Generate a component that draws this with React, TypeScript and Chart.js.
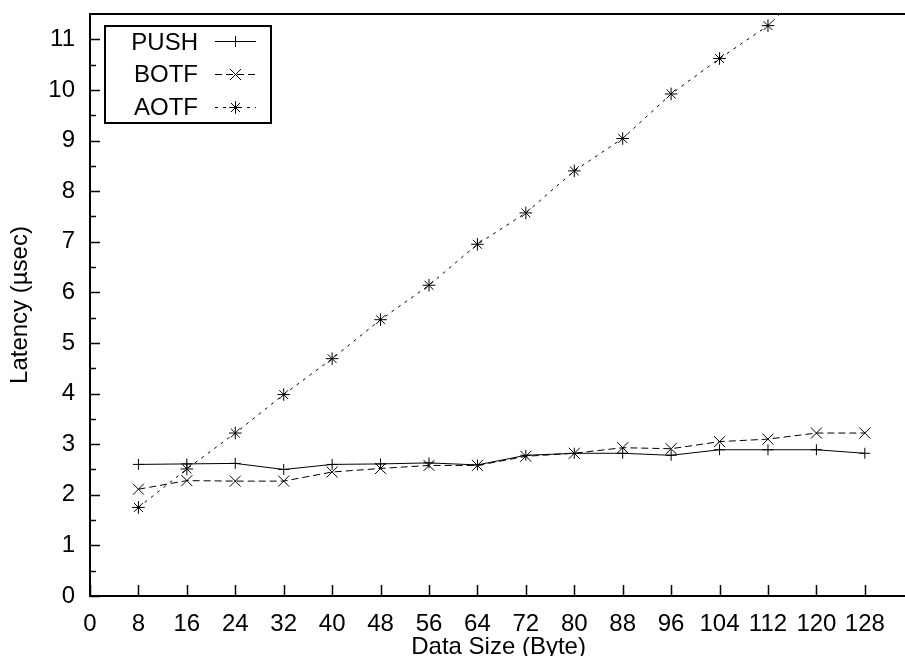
import React, { useEffect, useRef } from 'react';
import { Chart, registerables } from 'chart.js';

Chart.register(...registerables);

// ---------- data ----------
const dataSizes = [8, 16, 24, 32, 40, 48, 56, 64, 72, 80, 88, 96, 104, 112, 120, 128];
const seriesNames = ['PUSH', 'BOTF', 'AOTF'];
const pushLatency = [2.6, 2.61, 2.62, 2.5, 2.6, 2.61, 2.63, 2.59, 2.78, 2.82, 2.82, 2.78, 2.89, 2.89, 2.89, 2.82];
const botfLatency = [2.11, 2.28, 2.27, 2.27, 2.45, 2.52, 2.58, 2.58, 2.76, 2.82, 2.93, 2.91, 3.05, 3.1, 3.22, 3.22];
const aotfLatency = [1.75, 2.51, 3.22, 3.98, 4.69, 5.46, 6.14, 6.95, 7.57, 8.4, 9.04, 9.92, 10.62, 11.27, 12.2, 12.9];
const xTickValues = [0, 8, 16, 24, 32, 40, 48, 56, 64, 72, 80, 88, 96, 104, 112, 120, 128];
const yTickValues = [0, 1, 2, 3, 4, 5, 6, 7, 8, 9, 10, 11];
const xTitle = 'Data Size (Byte)';
const yTitle = 'Latency (\u00b5sec)';

const FONT = "'Liberation Sans', Arial, Helvetica, sans-serif";

const seriesStyles = [
  { dash: [] as number[], point: 'cross', radius: 5.5 },
  { dash: [7, 4], point: 'crossRot', radius: 7.8 },
  { dash: [3, 5], point: 'star', radius: 6.3 },
];

function drawMarker(ctx: CanvasRenderingContext2D, kind: string, x: number, y: number, r: number) {
  ctx.beginPath();
  const d = r * Math.SQRT1_2;
  if (kind === 'cross' || kind === 'star') {
    ctx.moveTo(x - r, y); ctx.lineTo(x + r, y);
    ctx.moveTo(x, y - r); ctx.lineTo(x, y + r);
  }
  if (kind === 'crossRot' || kind === 'star') {
    ctx.moveTo(x - d, y - d); ctx.lineTo(x + d, y + d);
    ctx.moveTo(x - d, y + d); ctx.lineTo(x + d, y - d);
  }
  ctx.stroke();
}

const framePlugin = {
  id: 'gnuFrame',
  afterDatasetsDraw(chart: any) {
    const { ctx, chartArea } = chart;
    const xs = chart.scales.x;
    const ys = chart.scales.y;
    const { left, top, bottom } = chartArea;
    const right = chart.width;
    ctx.save();
    ctx.strokeStyle = '#000';
    ctx.setLineDash([]);
    // ticks
    ctx.lineWidth = 1.5;
    ctx.beginPath();
    yTickValues.forEach((v) => {
      const py = Math.round(ys.getPixelForValue(v)) + 0.5;
      ctx.moveTo(left, py); ctx.lineTo(left + 10, py);
      const pm = Math.round(ys.getPixelForValue(v + 0.5)) + 0.5;
      if (pm > top + 2) { ctx.moveTo(left, pm); ctx.lineTo(left + 6, pm); }
    });
    xTickValues.forEach((v) => {
      const px = Math.round(xs.getPixelForValue(v)) + 0.5;
      ctx.moveTo(px, bottom); ctx.lineTo(px, bottom - 11);
    });
    ctx.stroke();
    // border (left, top, bottom)
    ctx.lineWidth = 2;
    ctx.beginPath();
    ctx.moveTo(right, top); ctx.lineTo(left, top); ctx.lineTo(left, bottom); ctx.lineTo(right, bottom);
    ctx.stroke();

    // key
    ctx.lineWidth = 2;
    ctx.strokeRect(105, 26, 166, 97);
    ctx.font = `24px ${FONT}`;
    ctx.fillStyle = '#000';
    ctx.textAlign = 'right';
    ctx.textBaseline = 'alphabetic';
    seriesNames.forEach((name, i) => {
      const baseY = 49.5 + i * 32.7;
      const midY = Math.round(baseY - 8.3) + 0.5;
      ctx.fillText(name, 198, baseY);
      const st = seriesStyles[i];
      ctx.lineWidth = 1;
      ctx.setLineDash(st.dash);
      ctx.beginPath();
      ctx.moveTo(215, midY); ctx.lineTo(256, midY);
      ctx.stroke();
      ctx.setLineDash([]);
      drawMarker(ctx, st.point, 235.5, midY, st.radius);
    });
    ctx.restore();
  },
};

export default function App() {
  const ref = useRef<HTMLCanvasElement | null>(null);
  useEffect(() => {
    if (!ref.current) return;
    const series = [pushLatency, botfLatency, aotfLatency];
    const chart = new Chart(ref.current, {
      type: 'line',
      data: {
        datasets: series.map((vals, i) => ({
          label: seriesNames[i],
          data: dataSizes.map((x, j) => ({ x, y: vals[j] })),
          borderColor: '#000',
          borderWidth: 1,
          borderDash: seriesStyles[i].dash,
          pointStyle: seriesStyles[i].point as any,
          pointRadius: seriesStyles[i].radius,
          pointBorderColor: '#000',
          pointBackgroundColor: '#000',
          pointBorderWidth: 1,
          tension: 0,
          fill: false,
        })),
      },
      options: {
        animation: false,
        responsive: false,
        events: [],
        layout: { padding: { top: 14, right: 0, left: 0, bottom: 0 } },
        plugins: { legend: { display: false }, tooltip: { enabled: false } },
        scales: {
          x: {
            type: 'linear',
            min: 0,
            max: 135,
            afterFit: (s: any) => { s.height = 60; s.paddingLeft = 0; s.paddingRight = 0; },
            afterBuildTicks: (s: any) => { s.ticks = xTickValues.map((v) => ({ value: v })); },
            grid: { display: false, drawTicks: false },
            border: { display: false },
            ticks: {
              autoSkip: false,
              maxRotation: 0,
              padding: 14,
              color: '#000',
              font: { family: FONT, size: 24 },
              callback: (v: any) => String(v),
            },
            title: {
              display: true,
              text: xTitle,
              color: '#000',
              font: { family: FONT, size: 24 },
              padding: { top: 0, bottom: -6 },
            },
          },
          y: {
            type: 'linear',
            min: 0,
            max: 11.5,
            afterFit: (s: any) => { s.width = 90; s.paddingTop = 0; s.paddingBottom = 0; },
            afterBuildTicks: (s: any) => { s.ticks = yTickValues.map((v) => ({ value: v })); },
            grid: { display: false, drawTicks: false },
            border: { display: false },
            ticks: {
              autoSkip: false,
              padding: 15,
              color: '#000',
              font: { family: FONT, size: 24 },
              callback: (v: any) => String(v),
            },
            title: {
              display: true,
              text: yTitle,
              color: '#000',
              font: { family: FONT, size: 24 },
              padding: { top: 6, bottom: 0 },
            },
          },
        },
      },
      plugins: [framePlugin],
    });
    return () => chart.destroy();
  }, []);
  return (
    <div style={{ position: 'fixed', left: 0, top: 0, width: 905, height: 656, overflow: 'hidden', background: '#fff' }}>
      <canvas ref={ref} width={916} height={656} style={{ display: 'block' }} />
    </div>
  );
}
